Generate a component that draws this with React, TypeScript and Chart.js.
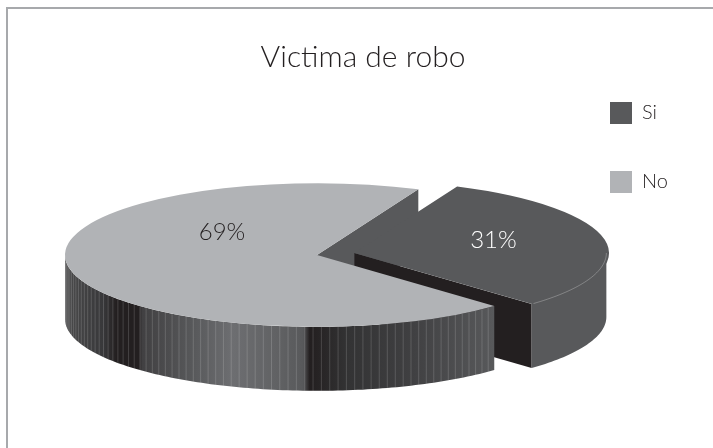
import { useEffect, useRef } from "react";
import { Chart, registerables } from "chart.js";

Chart.register(...registerables);

const categories = ["Si", "No"];
const shares = [31, 69];
const topColors = ["#58595b", "#b1b3b6"];
const shareLabels = ["31%", "69%"];
const labelColors = ["#ffffff", "#231f20"];

const FONT = "Lato, 'Open Sans', sans-serif";
const SQUASH = 0.285;
const DEPTH = 64;
const CENTER_Y = 255;
const FACET = (1.9 * Math.PI) / 180;
const WALL_STOPS: [number, string][] = [
  [0, "#4a4a4b"],
  [0.09, "#38383a"],
  [0.12, "#231f20"],
  [0.172, "#231f20"],
  [0.18, "#414042"],
  [0.3, "#58595b"],
  [0.39, "#6d6e71"],
  [0.5, "#606163"],
  [0.555, "#58595b"],
  [0.57, "#231f20"],
  [0.66, "#333334"],
  [0.8, "#3f3f41"],
  [1, "#58595b"],
];

const pieDepthPlugin = {
  id: "pieDepth",
  beforeDraw(chart: any) {
    // frame: only the top and left edges fall inside the canvas
    const { ctx, width, height } = chart;
    ctx.save();
    ctx.strokeStyle = "#a7a9ac";
    ctx.lineWidth = 2;
    ctx.beginPath();
    ctx.moveTo(7, height);
    ctx.lineTo(7, 8);
    ctx.lineTo(width, 8);
    ctx.stroke();
    ctx.restore();
  },
  afterLayout(chart: any) {
    const { legend, titleBlock, width, height } = chart;
    legend.left = 563;
    legend.right = width;
    legend.top = 55;
    legend.bottom = height;
    titleBlock.left = 13;
    titleBlock.right = width;
  },
  beforeDatasetsDraw(chart: any) {
    const { ctx } = chart;
    const arcs = chart.getDatasetMeta(0).data;
    const [si, no] = arcs;
    const cy = si.y;
    const project = (arc: any, angle: number, radius: number) => {
      const shift = (arc.options.offset || 0) / 4;
      const mid = (arc.startAngle + arc.endAngle) / 2;
      const px = arc.x + Math.cos(mid) * shift + Math.cos(angle) * radius;
      const py = Math.sin(mid) * shift + Math.sin(angle) * radius;
      return { x: px, y: CENTER_Y + py * SQUASH };
    };
    const radialWall = (arc: any, angle: number, color: string) => {
      const a = project(arc, angle, 0);
      const b = project(arc, angle, arc.outerRadius);
      ctx.fillStyle = color;
      ctx.beginPath();
      ctx.moveTo(a.x, a.y);
      ctx.lineTo(b.x, b.y);
      ctx.lineTo(b.x, b.y + DEPTH);
      ctx.lineTo(a.x, a.y + DEPTH);
      ctx.closePath();
      ctx.fill();
    };
    const rimPath = (arc: any, from: number, to: number) => {
      const steps = Math.max(2, Math.ceil(Math.abs(to - from) / 0.02));
      ctx.beginPath();
      for (let i = 0; i <= steps; i++) {
        const p = project(arc, from + ((to - from) * i) / steps, arc.outerRadius);
        if (i === 0) ctx.moveTo(p.x, p.y);
        else ctx.lineTo(p.x, p.y);
      }
      for (let i = steps; i >= 0; i--) {
        const p = project(arc, from + ((to - from) * i) / steps, arc.outerRadius);
        ctx.lineTo(p.x, p.y + DEPTH);
      }
      ctx.closePath();
    };
    const topFace = (arc: any) => {
      ctx.save();
      ctx.translate(0, CENTER_Y);
      ctx.scale(1, SQUASH);
      ctx.translate(0, -cy);
      arc.draw(ctx, chart.chartArea);
      ctx.restore();
    };

    // wall left by the detached slice, seen behind it
    radialWall(no, no.endAngle, topColors[0]);

    // detached slice: cut face, rim, then its top
    radialWall(si, si.endAngle, "#231f20");
    rimPath(si, Math.max(si.startAngle, 0), si.endAngle);
    ctx.fillStyle = topColors[0];
    ctx.fill();
    topFace(si);
    ctx.strokeStyle = "rgba(255,255,255,0.35)";
    ctx.lineWidth = 0.75;
    ctx.beginPath();
    for (let t = 0; t <= si.endAngle; t += 0.02) {
      const p = project(si, t, si.outerRadius);
      if (t === 0) ctx.moveTo(p.x, p.y);
      else ctx.lineTo(p.x, p.y);
    }
    ctx.stroke();

    // main slice: faceted rim shaded across its width
    const left = no.x - no.outerRadius;
    const from = no.startAngle;
    const to = Math.PI;
    const right = project(no, from, no.outerRadius).x;
    const shade = ctx.createLinearGradient(left, 0, right, 0);
    WALL_STOPS.forEach(([stop, color]) => shade.addColorStop(stop, color));
    rimPath(no, from, to);
    ctx.fillStyle = shade;
    ctx.fill();
    ctx.strokeStyle = "rgba(255,255,255,0.2)";
    ctx.lineWidth = 0.8;
    for (let t = from + FACET; t < to; t += FACET) {
      const p = project(no, t, no.outerRadius);
      ctx.beginPath();
      ctx.moveTo(p.x, p.y);
      ctx.lineTo(p.x, p.y + DEPTH);
      ctx.stroke();
    }
    topFace(no);

    // value labels on the top faces
    ctx.font = `300 24px ${FONT}`;
    ctx.textAlign = "center";
    ctx.textBaseline = "middle";
    const spots = [
      project(si, (si.startAngle + si.endAngle) / 2 - 0.13, si.outerRadius * 0.58),
      { x: no.x - 95, y: CENTER_Y - 23 },
    ];
    spots.forEach((p, i) => {
      ctx.fillStyle = labelColors[i];
      ctx.fillText(shareLabels[i], p.x, p.y);
    });
    return false;
  },
};

export default function App() {
  const ref = useRef<HTMLCanvasElement>(null);

  useEffect(() => {
    const chart = new Chart(ref.current!, {
      type: "pie",
      data: {
        labels: categories,
        datasets: [
          {
            data: shares,
            backgroundColor: topColors,
            borderWidth: 0,
            offset: [152, 0],
            radius: 252,
          } as any,
        ],
      },
      options: {
        animation: false,
        responsive: false,
        rotation: 23.7,
        layout: { padding: { right: 79 } },
        plugins: {
          title: {
            display: true,
            text: "Victima de robo",
            color: "#231f20",
            font: { family: FONT, size: 30, weight: "300" },
            padding: { top: 39, bottom: 10 },
          },
          legend: {
            position: "chartArea",
            align: "start",
            labels: {
              color: "#231f20",
              font: { family: FONT, size: 20, weight: "300" },
              boxWidth: 22,
              boxHeight: 22,
              padding: 47,
            },
          },
          tooltip: { enabled: false },
        },
      },
      plugins: [pieDepthPlugin],
    });
    return () => chart.destroy();
  }, []);

  return (
    <div style={{ position: "fixed", left: 0, top: 0 }}>
      <canvas ref={ref} width={713} height={448} style={{ display: "block" }} />
    </div>
  );
}
